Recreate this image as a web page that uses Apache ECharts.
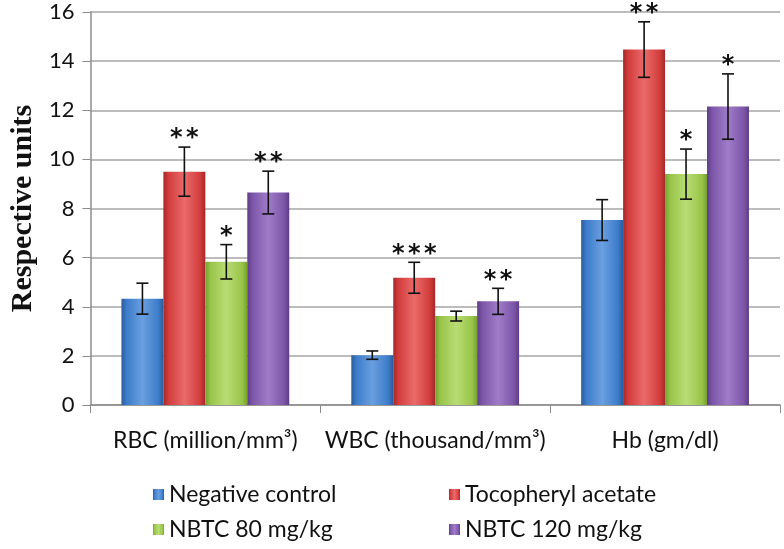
<!DOCTYPE html>
<html>
<head>
    <meta charset="utf-8">
    <title>Respective units</title>
    <script src="https://cdn.jsdelivr.net/npm/echarts@6/dist/echarts.min.js"></script>
    <style>
        html, body { margin: 0; padding: 0; background: #fff; }
        #main { width: 784px; height: 549px; }
    </style>
</head>
<body>
<div id="main"></div>
<script>
    // data
    var categories = ['RBC (million/mm\u00b3)', 'WBC (thousand/mm\u00b3)', 'Hb (gm/dl)'];
    var groupNames = ['Negative control', 'Tocopheryl acetate', 'NBTC 80 mg/kg', 'NBTC 120 mg/kg'];
    var negControl = [4.33, 2.03, 7.53];
    var tocopheryl = [9.50, 5.18, 14.47];
    var nbtc80 = [5.83, 3.62, 9.40];
    var nbtc120 = [8.65, 4.22, 12.15];
    var errNeg = [0.63, 0.17, 0.83];
    var errToco = [1.0, 0.63, 1.13];
    var err80 = [0.70, 0.20, 1.02];
    var err120 = [0.87, 0.53, 1.33];
    var starsNeg = ['', '', ''];
    var starsToco = ['**', '***', '**'];
    var stars80 = ['*', '', '*'];
    var stars120 = ['**', '**', '*'];
    var yTicks = [0, 2, 4, 6, 8, 10, 12, 14, 16];

    var values = [negControl, tocopheryl, nbtc80, nbtc120];
    var errors = [errNeg, errToco, err80, err120];
    var stars = [starsNeg, starsToco, stars80, stars120];
    var barGapRatio = 0.27;

    // base colour, light, dark
    var colors = [
        ['#3d7cc9', '#6a9fe0', '#2a5b9a'],
        ['#d23c3c', '#ea6a6a', '#a32828'],
        ['#98c448', '#b9dc75', '#76a030'],
        ['#7c55a8', '#9f7cc8', '#5d3d85']
    ];

    function grad(c) {
        return new echarts.graphic.LinearGradient(0, 0, 1, 0, [
            {offset: 0, color: c[2]},
            {offset: 0.12, color: c[0]},
            {offset: 0.5, color: c[1]},
            {offset: 0.88, color: c[0]},
            {offset: 1, color: c[2]}
        ]);
    }

    var series = [];
    values.forEach(function (v, i) {
        series.push({
            name: groupNames[i],
            type: 'bar',
            data: v,
            barGap: '0%',
            barCategoryGap: (barGapRatio * 100) + '%',
            itemStyle: {color: grad(colors[i])}
        });
    });

    // error bars + significance stars
    values.forEach(function (v, i) {
        var d = v.map(function (val, k) { return [k, val, errors[i][k], stars[i][k]]; });
        series.push({
            type: 'custom',
            name: groupNames[i] + ' err',
            z: 10,
            silent: true,
            data: d,
            renderItem: function (params, api) {
                var k = api.value(0), val = api.value(1), e = api.value(2);
                var star = d[params.dataIndex][3];
                var band = api.size([1, 0])[0];
                var bw = band * (1 - barGapRatio) / 4;
                var x = api.coord([k, val])[0] + (i - 1.5) * bw;
                var top = api.coord([k, val + e])[1];
                var bot = api.coord([k, val - e])[1];
                var st = {stroke: '#111', lineWidth: 1.6};
                var ch = [
                    {type: 'line', shape: {x1: x, y1: top, x2: x, y2: bot}, style: st},
                    {type: 'line', shape: {x1: x - 6, y1: top, x2: x + 6, y2: top}, style: st},
                    {type: 'line', shape: {x1: x - 6, y1: bot, x2: x + 6, y2: bot}, style: st}
                ];
                if (star) {
                    // one asterisk per glyph, spaced like the original
                    for (var s = 0; s < star.length; s++) {
                        ch.push({type: 'text', x: x + (s - (star.length - 1) / 2) * 16, y: top + 4, style: {
                            text: '*', align: 'center', verticalAlign: 'bottom',
                            font: 'bold 24px "DejaVu Sans"', fill: '#111'
                        }});
                    }
                }
                return {type: 'group', children: ch};
            }
        });
    });

    var myChart = echarts.init(document.getElementById('main'));
    var legendText = {fontSize: 23, fontFamily: 'Lato', color: '#111'};
    var option = {
        animation: false,
        grid: {left: 89, right: 4, top: 12, bottom: 144},
        legend: [
            {
                data: [groupNames[0], groupNames[2]],
                orient: 'vertical', left: 148, top: 478, itemGap: 12,
                itemWidth: 11, itemHeight: 11, icon: 'rect',
                textStyle: legendText
            },
            {
                data: [groupNames[1], groupNames[3]],
                orient: 'vertical', left: 444, top: 478, itemGap: 12,
                itemWidth: 11, itemHeight: 11, icon: 'rect',
                textStyle: legendText
            }
        ],
        xAxis: {
            type: 'category',
            data: categories,
            axisLine: {lineStyle: {color: '#8c8c8c', width: 1.5}},
            axisTick: {show: true, length: 8, lineStyle: {color: '#8c8c8c'}},
            axisLabel: {fontSize: 23, fontFamily: 'Lato', color: '#111', margin: 24, interval: 0, hideOverlap: false}
        },
        yAxis: {
            type: 'value',
            min: yTicks[0], max: yTicks[yTicks.length - 1], interval: 2,
            name: 'Respective units',
            nameLocation: 'middle',
            nameGap: 48,
            nameTextStyle: {fontSize: 30, fontWeight: 'bold', fontFamily: 'Liberation Serif', color: '#111'},
            axisLine: {show: true, lineStyle: {color: '#8c8c8c', width: 1.5}},
            axisTick: {show: true, length: 8, lineStyle: {color: '#8c8c8c'}},
            axisLabel: {fontSize: 22, fontFamily: 'Lato', color: '#111', margin: 16},
            splitLine: {lineStyle: {color: '#a6a6a6', width: 1.5}}
        },
        series: series
    };
    myChart.setOption(option);
</script>
</body>
</html>
